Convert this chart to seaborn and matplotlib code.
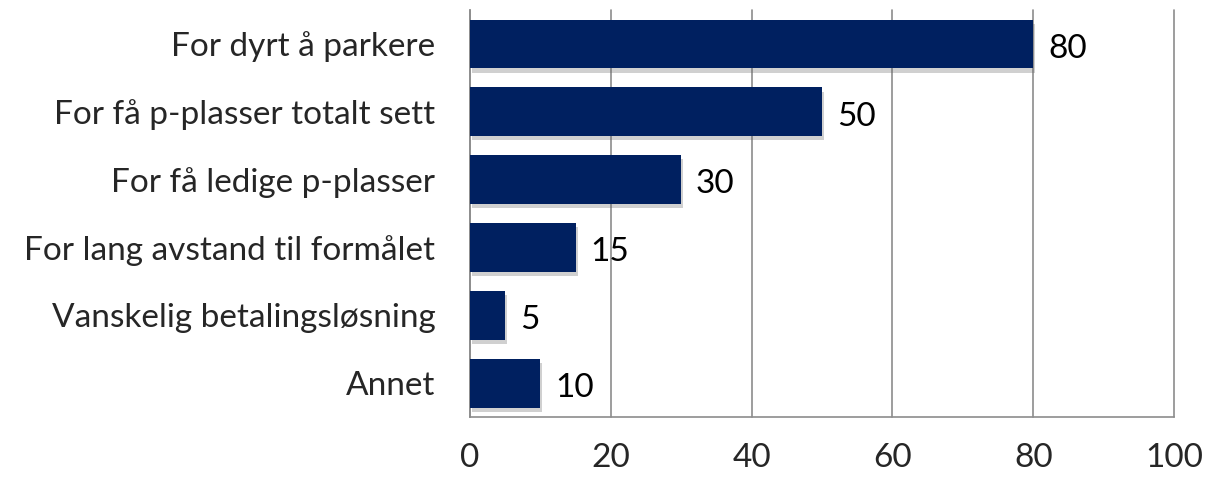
import numpy as np
import pandas as pd
import matplotlib
matplotlib.use("Agg")
import matplotlib.pyplot as plt
import matplotlib.patheffects as pe
import seaborn as sns

categories = ["For dyrt å parkere", "For få p-plasser totalt sett", "For få ledige p-plasser",
              "For lang avstand til formålet", "Vanskelig betalingsløsning", "Annet"]
values = [80, 50, 30, 15, 5, 10]
x_ticks = [0, 20, 40, 60, 80, 100]

df = pd.DataFrame({"kategori": categories, "verdi": values})

sns.set_style("white")
plt.rcParams["font.family"] = ["Lato", "DejaVu Sans"]

fig = plt.figure(figsize=(12.07, 4.79), dpi=100)
ax = fig.add_axes([0.3894, 0.1294, 0.5833, 0.8497])

sns.barplot(data=df, x="verdi", y="kategori", color="#002060", saturation=1,
            width=0.72, linewidth=0, ax=ax, zorder=3)

# subtle drop shadow like the original Excel chart
for bar in ax.patches:
    bar.set_path_effects([pe.SimplePatchShadow(offset=(1.5, -3), shadow_rgbFace="#666666", alpha=0.3),
                          pe.Normal()])

for i, v in enumerate(values):
    ax.text(v + 2.1, i + 0.07, str(v), va="center", ha="left", fontsize=24, color="black")

ax.set_xlim(0, 100)
ax.set_ylim(len(categories) - 0.5, -0.5)
ax.set_xticks(x_ticks)
ax.set_xlabel("")
ax.set_ylabel("")

gridc = "#8c8c8c"
ax.xaxis.grid(True, color=gridc, linewidth=1.2)
ax.set_axisbelow(True)
for line in ax.get_xgridlines():
    line.set_clip_on(False)
for s in ["top", "right"]:
    ax.spines[s].set_visible(False)
for s in ["left", "bottom"]:
    ax.spines[s].set_color(gridc)
    ax.spines[s].set_linewidth(1.2)

ax.tick_params(axis="x", length=8, width=1.2, color=gridc, labelsize=24, pad=11)
ax.tick_params(axis="y", which="major", length=0, labelsize=24, pad=25)
ax.set_yticks(np.arange(-0.5, len(categories)), minor=True)
ax.tick_params(axis="y", which="minor", length=9, width=1.2, color=gridc)

fig.savefig("out.png", dpi=100)
